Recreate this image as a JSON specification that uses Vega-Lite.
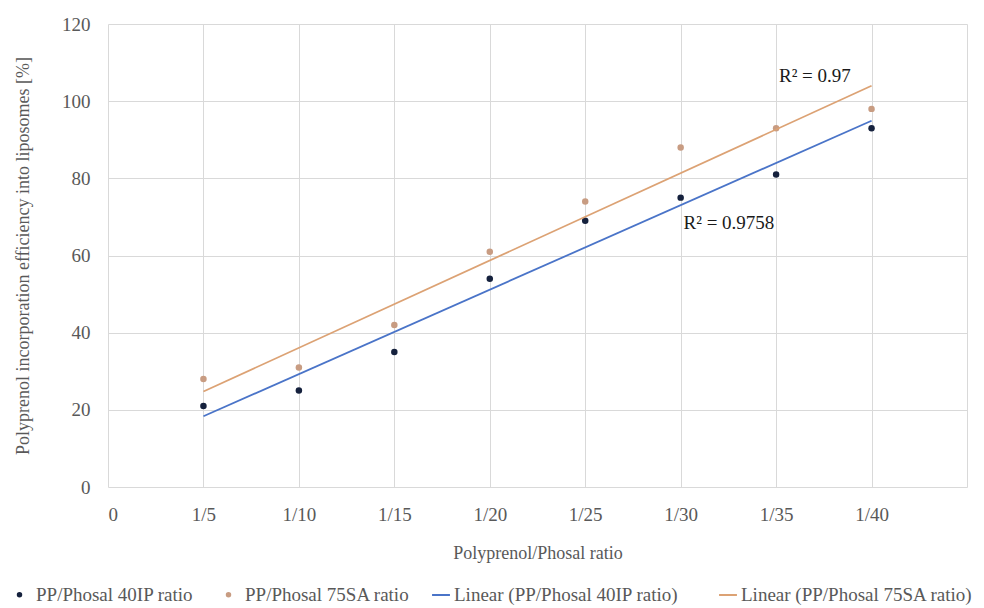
{
  "$schema": "https://vega.github.io/schema/vega-lite/v6.json",
  "width": 859,
  "height": 463,
  "autosize": {"type": "none"},
  "padding": {"left": 108, "top": 24, "right": 17, "bottom": 121},
  "background": "white",
  "config": {
    "font": "Liberation Serif",
    "view": {"stroke": null},
    "axis": {"gridColor": "#d9d9d9", "gridWidth": 1, "domain": false, "ticks": false, "labelColor": "#595959", "titleColor": "#595959", "labelFont": "Liberation Serif", "titleFont": "Liberation Serif", "titleFontWeight": "normal"},
    "legend": {"labelFont": "Liberation Serif", "labelColor": "#595959", "labelFontSize": 19, "labelLimit": 400, "orient": "none", "direction": "horizontal", "title": null, "labelOffset": 7}
  },
  "datasets": {
    "pts": [
      {"x": 1, "series": "PP/Phosal 40IP ratio", "trend": "Linear (PP/Phosal 40IP ratio)", "value": 21},
      {"x": 2, "series": "PP/Phosal 40IP ratio", "trend": "Linear (PP/Phosal 40IP ratio)", "value": 25},
      {"x": 3, "series": "PP/Phosal 40IP ratio", "trend": "Linear (PP/Phosal 40IP ratio)", "value": 35},
      {"x": 4, "series": "PP/Phosal 40IP ratio", "trend": "Linear (PP/Phosal 40IP ratio)", "value": 54},
      {"x": 5, "series": "PP/Phosal 40IP ratio", "trend": "Linear (PP/Phosal 40IP ratio)", "value": 69},
      {"x": 6, "series": "PP/Phosal 40IP ratio", "trend": "Linear (PP/Phosal 40IP ratio)", "value": 75},
      {"x": 7, "series": "PP/Phosal 40IP ratio", "trend": "Linear (PP/Phosal 40IP ratio)", "value": 81},
      {"x": 8, "series": "PP/Phosal 40IP ratio", "trend": "Linear (PP/Phosal 40IP ratio)", "value": 93},
      {"x": 1, "series": "PP/Phosal 75SA ratio", "trend": "Linear (PP/Phosal 75SA ratio)", "value": 28},
      {"x": 2, "series": "PP/Phosal 75SA ratio", "trend": "Linear (PP/Phosal 75SA ratio)", "value": 31},
      {"x": 3, "series": "PP/Phosal 75SA ratio", "trend": "Linear (PP/Phosal 75SA ratio)", "value": 42},
      {"x": 4, "series": "PP/Phosal 75SA ratio", "trend": "Linear (PP/Phosal 75SA ratio)", "value": 61},
      {"x": 5, "series": "PP/Phosal 75SA ratio", "trend": "Linear (PP/Phosal 75SA ratio)", "value": 74},
      {"x": 6, "series": "PP/Phosal 75SA ratio", "trend": "Linear (PP/Phosal 75SA ratio)", "value": 88},
      {"x": 7, "series": "PP/Phosal 75SA ratio", "trend": "Linear (PP/Phosal 75SA ratio)", "value": 93},
      {"x": 8, "series": "PP/Phosal 75SA ratio", "trend": "Linear (PP/Phosal 75SA ratio)", "value": 98}
    ],
    "labels": [
      {"x": 7.03, "value": 106.5, "text": "R² = 0.97"},
      {"x": 6.03, "value": 68.5, "text": "R² = 0.9758"}
    ]
  },
  "layer": [
    {
      "data": {"name": "pts"},
      "mark": {"type": "circle", "size": 42, "opacity": 1},
      "encoding": {
        "x": {"field": "x", "type": "quantitative", "scale": {"domain": [0, 9], "nice": false, "zero": false},
          "axis": {"values": [0, 1, 2, 3, 4, 5, 6, 7, 8, 9], "labelExpr": "datum.value == 0 ? '0' : (datum.value == 9 ? '' : '1/' + datum.value * 5)", "labelFontSize": 19, "labelPadding": 18, "title": "Polyprenol/Phosal ratio", "titleFontSize": 18, "titlePadding": 20}},
        "y": {"field": "value", "type": "quantitative", "scale": {"domain": [0, 120], "nice": false},
          "axis": {"values": [0, 20, 40, 60, 80, 100, 120], "labelFontSize": 19, "labelPadding": 18, "title": "Polyprenol incorporation efficiency into liposomes [%]", "titleFontSize": 18, "titlePadding": 29}},
        "color": {"field": "series", "type": "nominal", "scale": {"domain": ["PP/Phosal 40IP ratio", "PP/Phosal 75SA ratio"], "range": ["#15213d", "#c89c82"]},
          "legend": {"symbolType": "circle", "symbolSize": 30, "symbolStrokeWidth": 0, "columnPadding": 25, "legendX": -98, "legendY": 561}}
      }
    },
    {
      "data": {"name": "pts"},
      "transform": [{"regression": "value", "on": "x", "groupby": ["trend"], "extent": [1, 8]}],
      "mark": {"type": "line", "strokeWidth": 1.8},
      "encoding": {
        "x": {"field": "x", "type": "quantitative"},
        "y": {"field": "value", "type": "quantitative"},
        "stroke": {"field": "trend", "type": "nominal", "scale": {"domain": ["Linear (PP/Phosal 40IP ratio)", "Linear (PP/Phosal 75SA ratio)"], "range": ["#4a74c8", "#dca274"]},
          "legend": {"symbolType": "stroke", "symbolSize": 320, "symbolStrokeWidth": 2, "labelOffset": 3, "columnPadding": 36, "legendX": 323, "legendY": 561}}
      }
    },
    {
      "data": {"name": "labels"},
      "mark": {"type": "text", "align": "left", "baseline": "middle", "fontSize": 19, "color": "#1a1a1a"},
      "encoding": {
        "x": {"field": "x", "type": "quantitative"},
        "y": {"field": "value", "type": "quantitative"},
        "text": {"field": "text"}
      }
    }
  ]
}
